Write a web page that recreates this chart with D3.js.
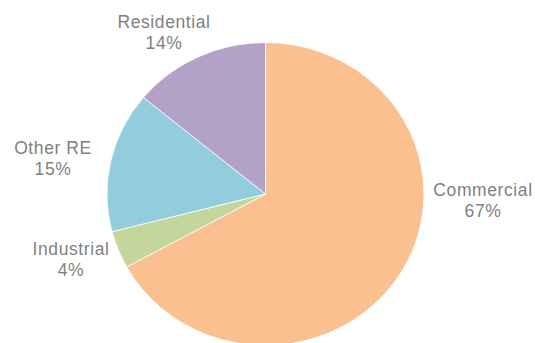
<!DOCTYPE html>
<html>
<head>
<meta charset="utf-8">
<script src="https://cdn.jsdelivr.net/npm/d3@7"></script>
<style>
  html, body { margin: 0; padding: 0; background: #fff; }
  svg { display: block; }
  text { font-family: "Liberation Sans", Arial, sans-serif; fill: #7f7f7f; }
</style>
</head>
<body>
<svg id="chart" width="535" height="343"></svg>
<script>
// Share of exposure by property segment (percent)
const categories = ["Commercial", "Industrial", "Other RE", "Residential"];
const shares = [67, 4, 15, 14];
const colors = ["#FAC090", "#C3D69B", "#93CDDD", "#B3A2C7"];

// Label anchors: centre x and first-line baseline, relative to pie centre
const labelOffsets = {
  "Commercial":  [217.5, 2],
  "Industrial":  [-194.5, 61],
  "Other RE":    [-212.5, -40],
  "Residential": [-101.5, -166]
};

const width = 535, height = 343;
const cx = 265.5, cy = 194;
const rx = 158.5, ry = 151.5;
const lineGap = 20.8;

const svg = d3.select("#chart");

const pie = d3.pie().sort(null).value(d => d.value);
const arcs = pie(categories.map((c, i) => ({ name: c, value: shares[i] })));

const arc = d3.arc().innerRadius(0).outerRadius(rx);
const color = d3.scaleOrdinal().domain(categories).range(colors);

const g = svg.append("g")
  .attr("transform", `translate(${cx},${cy}) scale(1,${ry / rx})`);

g.selectAll("path")
  .data(arcs)
  .enter().append("path")
  .attr("d", arc)
  .attr("fill", d => color(d.data.name))
  .attr("stroke", "#ffffff")
  .attr("stroke-width", 0.8)
  .attr("vector-effect", "non-scaling-stroke");

const labels = svg.append("g").attr("transform", `translate(${cx},${cy})`);

arcs.forEach(d => {
  const [ox, oy] = labelOffsets[d.data.name];
  const t = labels.append("text")
    .attr("text-anchor", "middle")
    .attr("font-size", "17.5px")
    .attr("letter-spacing", "0.6px")
    .attr("x", ox)
    .attr("y", oy);
  t.append("tspan").attr("x", ox).attr("y", oy).text(d.data.name);
  t.append("tspan").attr("x", ox).attr("y", oy + lineGap).text(d.data.value + "%");
});
</script>
</body>
</html>
